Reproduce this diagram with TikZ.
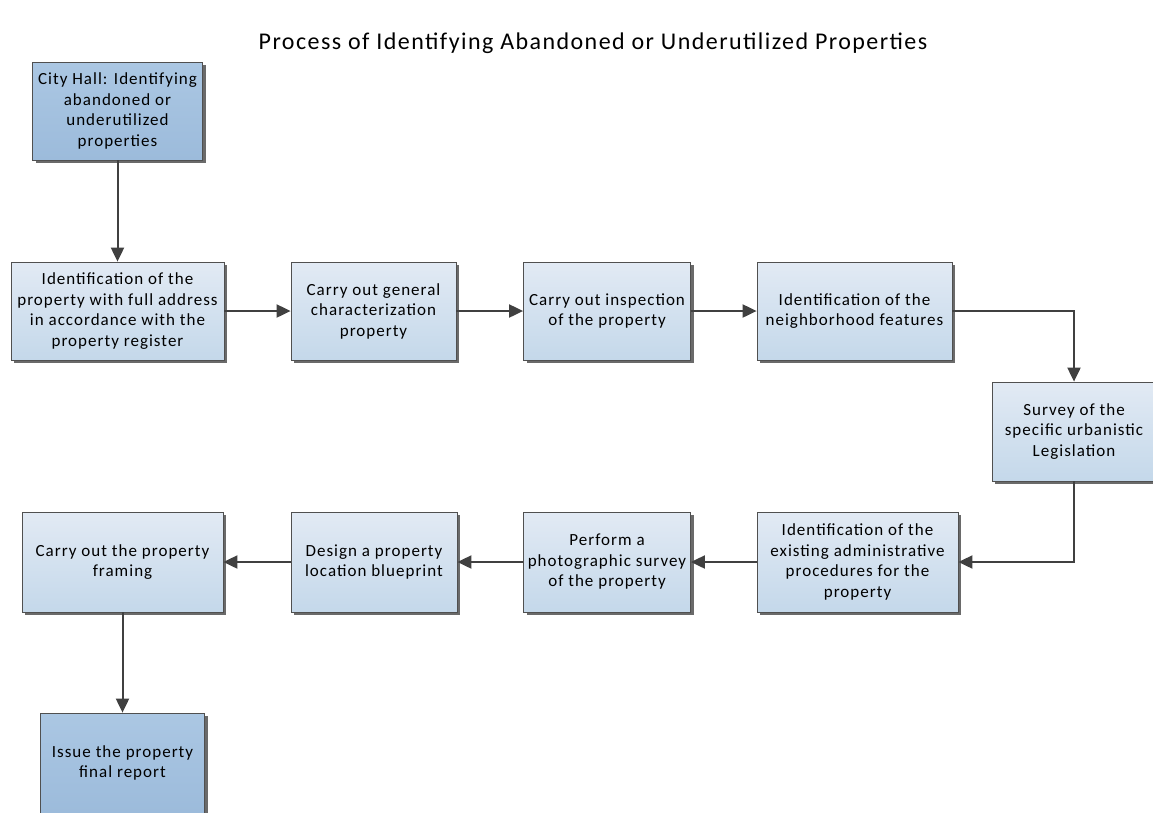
\documentclass[tikz,border=0pt]{standalone}
\usepackage{fontspec}
\setmainfont{Carlito}
\newfontfamily\boxfont{Carlito}[LetterSpace=6]
\newfontfamily\titlefont{Carlito}[LetterSpace=6]
\usetikzlibrary{arrows.meta,shadows}
\definecolor{edge}{HTML}{505050}
\definecolor{lighttop}{HTML}{E2EAF4}
\definecolor{lightbot}{HTML}{C4D8EA}
\definecolor{darktop}{HTML}{ABC7E3}
\definecolor{darkbot}{HTML}{9CBBDB}
\definecolor{link}{HTML}{404040}
\definecolor{shade}{HTML}{6A6A6A}

\begin{document}
\begin{tikzpicture}[x=1pt,y=-1pt,
  stepbox/.style={rectangle, draw=edge, line width=0.8pt, inner sep=1pt,
    align=center, font=\boxfont\fontsize{17}{20.5}\selectfont,
    minimum height=98pt,
    top color=lighttop, bottom color=lightbot,
    drop shadow={shadow xshift=3pt, shadow yshift=-3pt, fill=shade, opacity=1}},
  keybox/.style={stepbox, top color=darktop, bottom color=darkbot},
  flow/.style={draw=link, line width=2pt, -{Triangle[length=14pt,width=13pt]}}]

  % canvas
  \useasboundingbox (0,0) rectangle (1153,812);
  \fill[white] (0,0) rectangle (1153,812);

  % title
  \node (title) at (593,43) {\titlefont\fontsize{24}{28}\selectfont Process of Identifying Abandoned or Underutilized Properties};

  % first column start
  \node[keybox, minimum width=170pt] (cityhall) at (117.5,111)
    {City Hall: Identifying\\abandoned or\\underutilized\\properties};

  % upper row, left to right
  \node[stepbox, minimum width=213pt] (address) at (117.5,311)
    {Identification of the\\property with full address\\in accordance with the\\property register};
  \node[stepbox, minimum width=165pt] (charact) at (373.5,311)
    {Carry out general\\characterization\\property};
  \node[stepbox, minimum width=167pt] (inspect) at (607,311)
    {Carry out inspection\\of the property};
  \node[stepbox, minimum width=195pt] (neigh) at (854.5,311)
    {Identification of the\\neighborhood features};

  % right side
  \node[stepbox, minimum width=164pt, minimum height=99pt] (survey) at (1074,431.5)
    {Survey of the\\specific urbanistic\\Legislation};

  % lower row, right to left
  \node[stepbox, minimum width=201pt, minimum height=100pt] (admin) at (857.5,562)
    {Identification of the\\existing administrative\\procedures for the\\property};
  \node[stepbox, minimum width=167pt, minimum height=100pt] (photo) at (607,562)
    {Perform a\\photographic survey\\of the property};
  \node[stepbox, minimum width=166pt, minimum height=100pt] (blueprint) at (374,562)
    {Design a property\\location blueprint};
  \node[stepbox, minimum width=201pt, minimum height=100pt] (framing) at (122.5,562)
    {Carry out the property\\framing};

  % end
  \node[keybox, minimum width=164pt, minimum height=100pt] (report) at (122.5,763)
    {Issue the property\\final report};

  % connectors
  \draw[flow] (cityhall) -- (address);
  \draw[flow] (address) -- (charact);
  \draw[flow] (charact) -- (inspect);
  \draw[flow] (inspect) -- (neigh);
  \draw[flow] (neigh.east) -| (survey.north);
  \draw[flow] (survey.south) |- (admin.east);
  \draw[flow] (admin) -- (photo);
  \draw[flow] (photo) -- (blueprint);
  \draw[flow] (blueprint) -- (framing);
  \draw[flow] (framing) -- (report);
\end{tikzpicture}
\end{document}
